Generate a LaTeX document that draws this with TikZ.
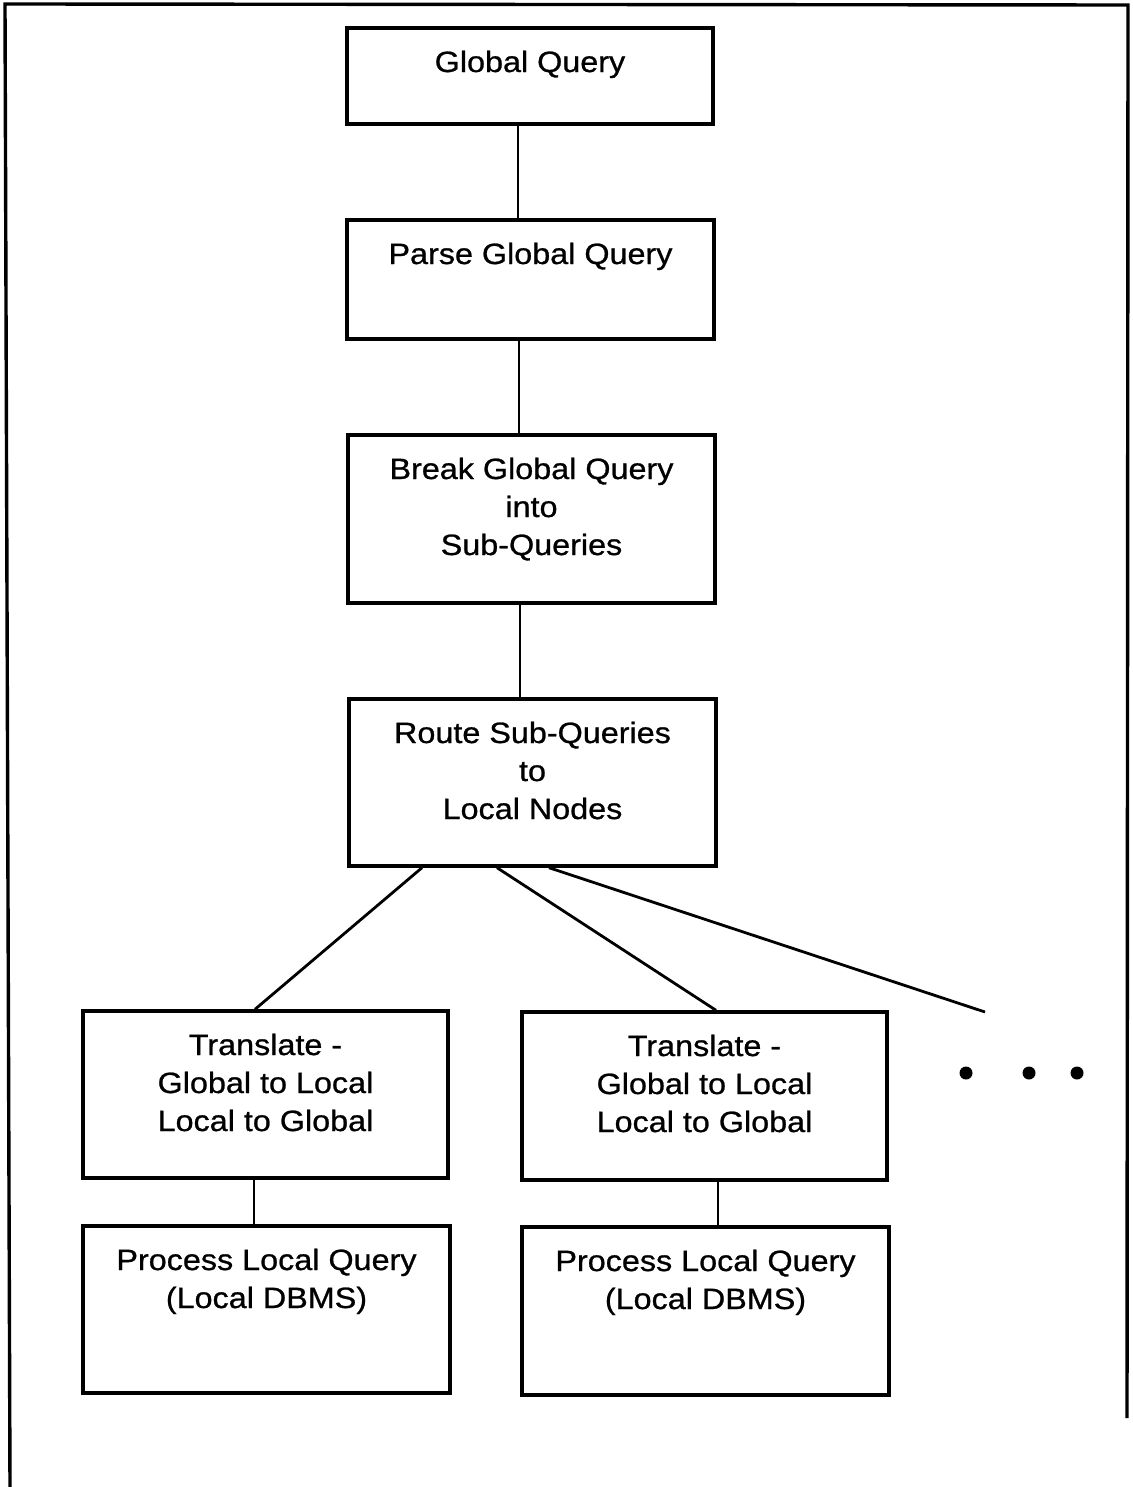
\documentclass[tikz,border=0pt]{standalone}
\usepackage{fontspec}
\setmainfont{Liberation Sans}[FakeStretch=1.1,FakeBold=0.8]
\begin{document}
\begin{tikzpicture}[x=0.5pt,y=-0.5pt,
  box/.style={draw, line width=1.7pt, rectangle, inner sep=0pt},
  txt/.style={anchor=north, inner sep=0pt, align=center,
    font=\fontsize{14.7pt}{19pt}\selectfont},
  link/.style={line width=1.4pt},
  dot/.style={circle, fill, inner sep=0pt, minimum size=6.5pt}]
\useasboundingbox (0,0) rectangle (1133,1487);
% outer frame
\draw[line width=1.7pt] (10,1487) -- (5,4) -- (1128,5) -- (1127,1418);

% process boxes
\node[box, minimum width=183pt, minimum height=48pt]   (gq)    at (530,76)     {};
\node[box, minimum width=183.5pt, minimum height=59.5pt] (parse) at (530.5,279.5) {};
\node[box, minimum width=183.5pt, minimum height=84pt] (brk)   at (531.5,519)  {};
\node[box, minimum width=183.5pt, minimum height=83.5pt] (route) at (532.5,782.5) {};
\node[box, minimum width=182.5pt, minimum height=83.5pt] (trL)   at (265.5,1094.5) {};
\node[box, minimum width=182.5pt, minimum height=84pt] (trR)   at (704.5,1096) {};
\node[box, minimum width=183.5pt, minimum height=83.5pt] (prL)   at (266.5,1309.5) {};
\node[box, minimum width=183.5pt, minimum height=84pt] (prR)   at (705.5,1311) {};

% box labels
\node[txt] (gqt)    at ([yshift=-12pt]gq.north)    {Global Query};
\node[txt] (parset) at ([yshift=-12pt]parse.north) {Parse Global Query};
\node[txt] (brkt)   at ([yshift=-12pt]brk.north)   {Break Global Query\\into\\Sub-Queries};
\node[txt] (routet) at ([yshift=-12pt]route.north) {Route Sub-Queries\\to\\Local Nodes};
\node[txt] (trLt)   at ([yshift=-12pt]trL.north)   {Translate -\\Global to Local\\Local to Global};
\node[txt] (trRt)   at ([yshift=-12pt]trR.north)   {Translate -\\Global to Local\\Local to Global};
\node[txt] (prLt)   at ([yshift=-12pt]prL.north)   {Process Local Query\\(Local DBMS)};
\node[txt] (prRt)   at ([yshift=-12pt]prR.north)   {Process Local Query\\(Local DBMS)};

% continuation dots
\node[dot] (d1) at (966,1073) {};
\node[dot] (d2) at (1029,1073) {};
\node[dot] (d3) at (1077,1073) {};
\coordinate (more) at (985,1012);

% connectors
\draw[link] ([xshift=-6pt]gq.south) -- ([xshift=-6pt]gq.south |- parse.north);
\draw[link] ([xshift=-5.75pt]parse.south) -- ([xshift=-5.75pt]parse.south |- brk.north);
\draw[link] ([xshift=-5.75pt]brk.south) -- ([xshift=-5.75pt]brk.south |- route.north);
\draw[link] ([xshift=-55.25pt]route.south) -- ([xshift=-5.25pt]trL.north);
\draw[link] ([xshift=-17.75pt]route.south) -- ([xshift=5.75pt]trR.north);
\draw[link] ([xshift=8.25pt]route.south) -- (more);
\draw[link] ([xshift=-5.75pt]trL.south) -- ([xshift=-5.75pt]trL.south |- prL.north);
\draw[link] ([xshift=6.75pt]trR.south) -- ([xshift=6.75pt]trR.south |- prR.north);
\end{tikzpicture}
\end{document}
